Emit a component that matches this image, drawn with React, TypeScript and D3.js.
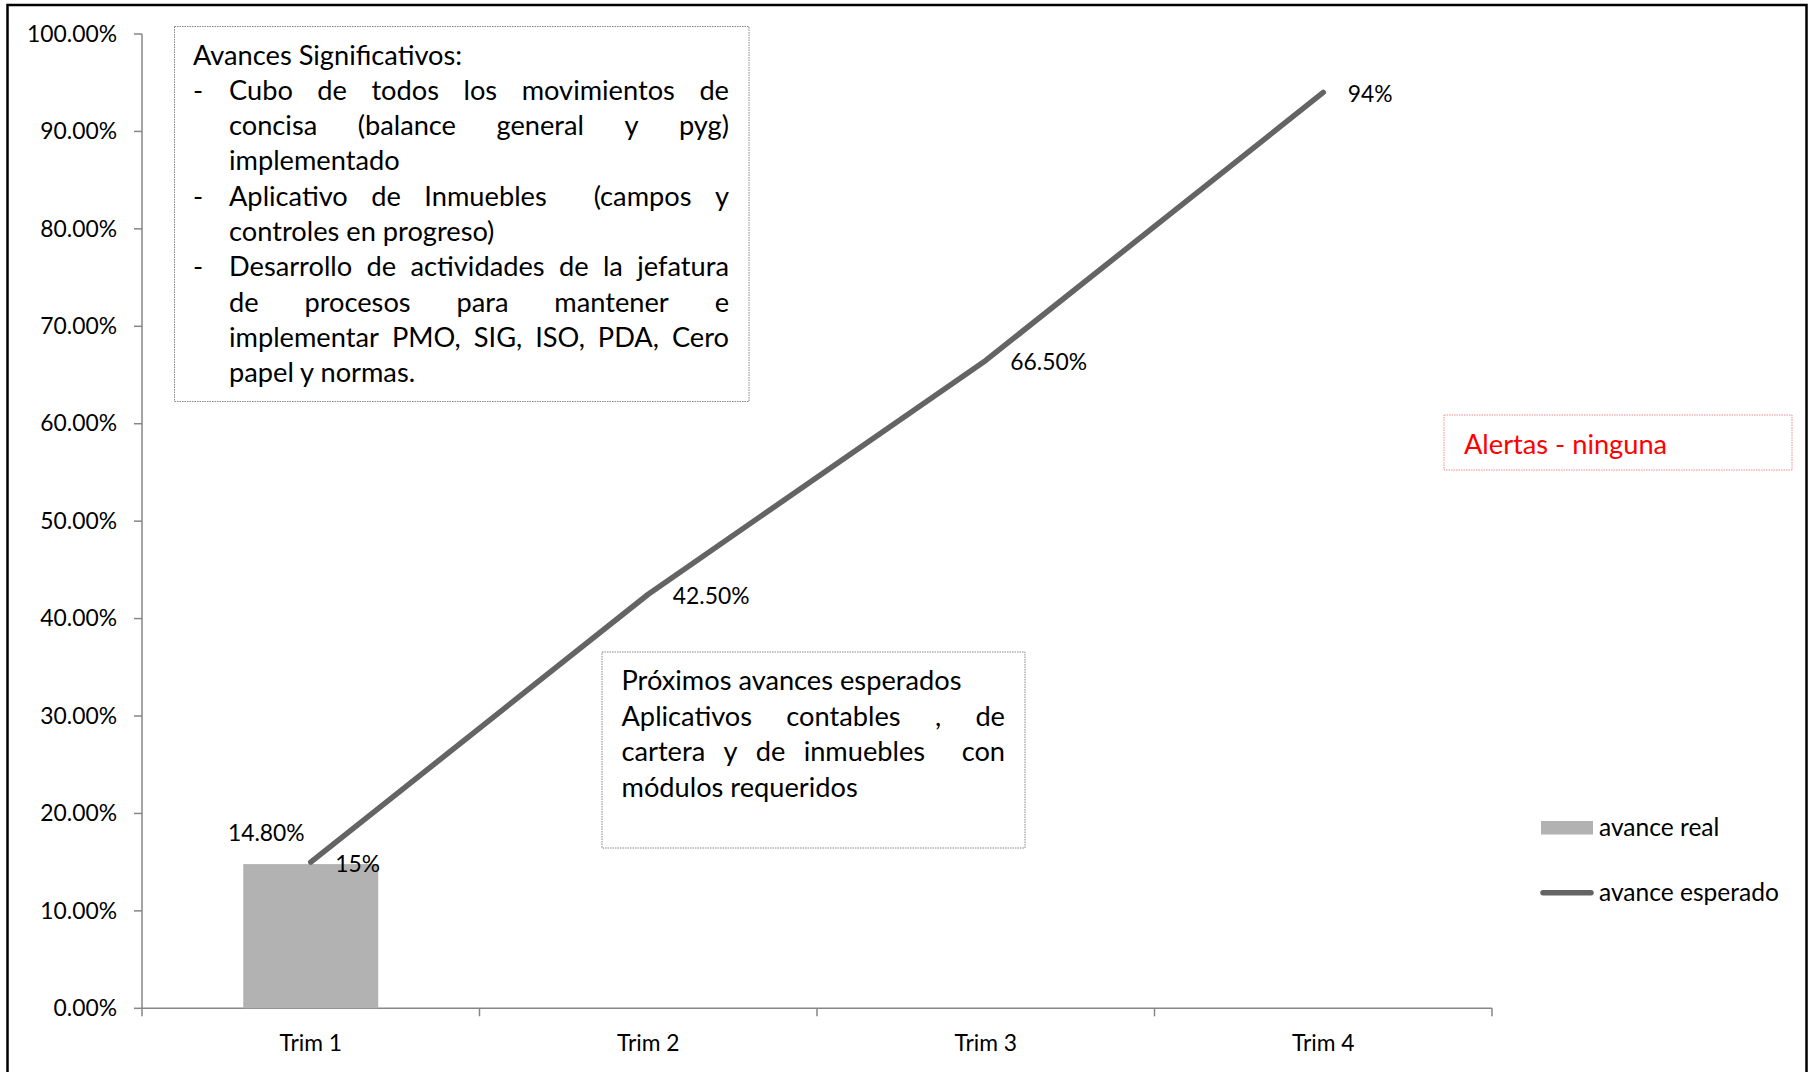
import React, { useMemo } from "react";
import * as d3 from "d3";

// ---------- data ----------
const categories = ["Trim 1", "Trim 2", "Trim 3", "Trim 4"];
const avanceReal: (number | null)[] = [0.148, null, null, null];
const avanceEsperado = [0.15, 0.425, 0.665, 0.94];
const realLabels = ["14.80%", "", "", ""];
const esperadoLabels = ["15%", "42.50%", "66.50%", "94%"];
const yTicks = [0, 0.1, 0.2, 0.3, 0.4, 0.5, 0.6, 0.7, 0.8, 0.9, 1.0];
const seriesNames = ["avance real", "avance esperado"];

const box1Lines = [
  { bullet: false, indent: false, justify: false, text: "Avances Significativos:" },
  { bullet: true, indent: true, justify: true, text: "Cubo de todos los movimientos de" },
  { bullet: false, indent: true, justify: true, text: "concisa (balance general y pyg)" },
  { bullet: false, indent: true, justify: false, text: "implementado" },
  { bullet: true, indent: true, justify: true, text: "Aplicativo de Inmuebles  (campos y" },
  { bullet: false, indent: true, justify: false, text: "controles en progreso)" },
  { bullet: true, indent: true, justify: true, text: "Desarrollo de actividades de la jefatura" },
  { bullet: false, indent: true, justify: true, text: "de procesos para mantener e" },
  { bullet: false, indent: true, justify: true, text: "implementar PMO, SIG, ISO, PDA, Cero" },
  { bullet: false, indent: true, justify: false, text: "papel y normas." },
];
const box2Lines = [
  { justify: false, text: "Próximos avances esperados" },
  { justify: true, text: "Aplicativos contables , de" },
  { justify: true, text: "cartera y de inmuebles  con" },
  { justify: false, text: "módulos requeridos" },
];
const alertText = "Alertas - ninguna";

// ---------- layout ----------
const W = 1812;
const H = 1072;
const FONT = "Lato, 'Open Sans', sans-serif";
const BAR_COLOR = "#b2b2b2";
const LINE_COLOR = "#646464";
const AXIS_COLOR = "#868686";

let ctx: CanvasRenderingContext2D | null = null;
function measure(text: string, size: number): number {
  if (!ctx) ctx = document.createElement("canvas").getContext("2d");
  if (!ctx) return text.length * size * 0.5;
  ctx.font = `${size}px Lato`;
  return ctx.measureText(text).width;
}

function JustLine({ text, left, right, y, size, justify, fill = "#000" }: any) {
  if (!justify) {
    return (
      <text x={left} y={y} fontSize={size} fill={fill} style={{ whiteSpace: "pre" }}>
        {text}
      </text>
    );
  }
  const tokens = text.split(" ");
  const full = measure(text, size);
  const extra = (right - left - full) / (tokens.length - 1);
  const out: any[] = [];
  tokens.forEach((t: string, i: number) => {
    if (!t) return;
    const prefix = tokens.slice(0, i).join(" ") + (i > 0 ? " " : "");
    const x = left + measure(prefix, size) + extra * i;
    out.push(
      <text key={i} x={x} y={y} fontSize={size} fill={fill}>
        {t}
      </text>
    );
  });
  return <g>{out}</g>;
}

export default function App() {
  const x = d3.scaleBand<string>().domain(categories).range([142, 1492]).paddingInner(0).paddingOuter(0);
  const y = d3.scaleLinear().domain([0, 1]).range([1008.3, 34]);
  const bw = x.bandwidth();
  const barW = bw * 0.4;
  const cx = (c: string) => (x(c) as number) + bw / 2;

  const sizes = useMemo(() => {
    const axis = (90 / measure("100.00%", 100)) * 100;
    const box = (340 / measure("Próximos avances esperados", 100)) * 100;
    const legend = (180 / measure("avance esperado", 100)) * 100;
    return { axis, box, legend };
  }, []);

  const linePath = d3
    .line<number>()
    .x((_, i) => cx(categories[i]))
    .y((d) => y(d))(avanceEsperado) as string;

  const tickXs = [...categories.map((c) => x(c) as number), 1492];

  return (
    <div style={{ position: "absolute", left: 0, top: 0 }}>
      <svg width={W} height={H} style={{ display: "block", fontFamily: FONT }}>
        <rect x={0} y={0} width={W} height={H} fill="#fff" />
        {/* outer frame */}
        <rect x={7.5} y={5} width={1799} height={1100} fill="none" stroke="#000" strokeWidth={2.5} />

        {/* y axis */}
        <line x1={142} x2={142} y1={y(1)} y2={y(0)} stroke={AXIS_COLOR} strokeWidth={1.5} />
        {yTicks.map((t) => (
          <g key={t}>
            <line x1={134} x2={142} y1={y(t)} y2={y(t)} stroke={AXIS_COLOR} strokeWidth={1.5} />
            <text x={117} y={y(t) + 7.7} textAnchor="end" fontSize={sizes.axis} fill="#000">
              {d3.format(".2%")(t)}
            </text>
          </g>
        ))}

        {/* x axis */}
        <line x1={142} x2={1492} y1={y(0)} y2={y(0)} stroke={AXIS_COLOR} strokeWidth={1.5} />
        {tickXs.map((tx, i) => (
          <line key={i} x1={tx} x2={tx} y1={y(0)} y2={y(0) + 8} stroke={AXIS_COLOR} strokeWidth={1.5} />
        ))}
        {categories.map((c) => (
          <text key={c} x={cx(c)} y={1050.7} textAnchor="middle" fontSize={sizes.axis} fill="#000">
            {c}
          </text>
        ))}

        {/* bars */}
        {avanceReal.map((v, i) =>
          v == null ? null : (
            <rect
              key={i}
              x={cx(categories[i]) - barW / 2}
              y={y(v)}
              width={barW}
              height={y(0) - y(v)}
              fill={BAR_COLOR}
            />
          )
        )}

        {/* line */}
        <path d={linePath} fill="none" stroke={LINE_COLOR} strokeWidth={5.5} strokeLinecap="round" strokeLinejoin="round" />

        {/* bar labels */}
        {avanceReal.map((v, i) =>
          v == null ? null : (
            <text key={i} x={cx(categories[i]) - 44.5} y={y(v) - 23} textAnchor="middle" fontSize={sizes.axis} fill="#000">
              {realLabels[i]}
            </text>
          )
        )}
        {/* line labels */}
        {avanceEsperado.map((v, i) => (
          <text key={i} x={cx(categories[i]) + 24.5} y={y(v) + 9.5} fontSize={sizes.axis} fill="#000">
            {esperadoLabels[i]}
          </text>
        ))}

        {/* text box 1 */}
        <rect x={174.5} y={26.5} width={574.5} height={375} fill="none" stroke={AXIS_COLOR} strokeWidth={1} strokeDasharray="1.5 1" />
        {box1Lines.map((l, i) => {
          const yy = 64.5 + i * 35.3;
          return (
            <g key={i}>
              {l.bullet && (
                <text x={193} y={yy} fontSize={sizes.box} fill="#000">
                  -
                </text>
              )}
              <JustLine
                text={l.text}
                left={l.indent ? 229 : 193}
                right={729}
                y={yy}
                size={sizes.box}
                justify={l.justify}
              />
            </g>
          );
        })}

        {/* text box 2 */}
        <rect x={602} y={652} width={423} height={196} fill="none" stroke={AXIS_COLOR} strokeWidth={1} strokeDasharray="1.5 1" />
        {box2Lines.map((l, i) => (
          <JustLine
            key={i}
            text={l.text}
            left={621.5}
            right={1005}
            y={690 + i * 35.5}
            size={sizes.box}
            justify={l.justify}
          />
        ))}

        {/* alert box */}
        <rect x={1444} y={415} width={348} height={55} fill="none" stroke="#f08c8c" strokeWidth={1} strokeDasharray="1.5 1" />
        <text x={1464} y={453.5} fontSize={sizes.box} fill="#ff0000">
          {alertText}
        </text>

        {/* legend */}
        <rect x={1541} y={821} width={52} height={13.5} fill={BAR_COLOR} />
        <text x={1599} y={836} fontSize={sizes.legend} fill="#000">
          {seriesNames[0]}
        </text>
        <line x1={1543} x2={1591} y1={892.7} y2={892.7} stroke={LINE_COLOR} strokeWidth={5.5} strokeLinecap="round" />
        <text x={1599} y={900.5} fontSize={sizes.legend} fill="#000">
          {seriesNames[1]}
        </text>
      </svg>
    </div>
  );
}
